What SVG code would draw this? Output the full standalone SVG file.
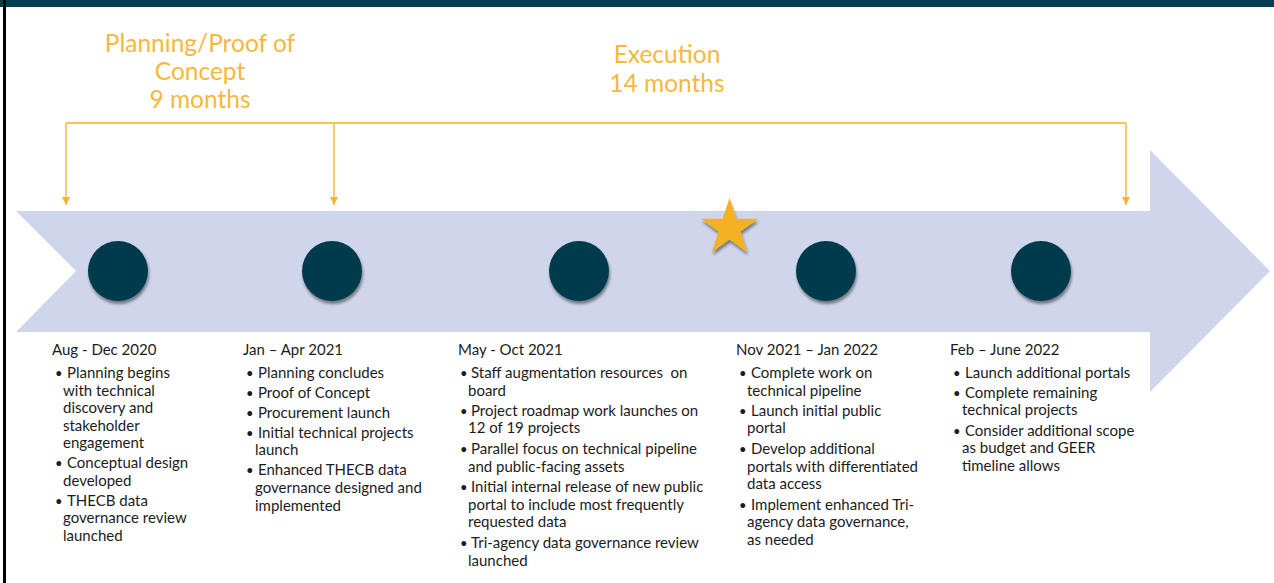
<svg xmlns="http://www.w3.org/2000/svg" width="1274" height="583" viewBox="0 0 1274 583">
  <style>
    .phase { font-family: Lato, "Open Sans", sans-serif; font-size: 24.5px; font-weight: 400; fill: #f6b83a; text-anchor: middle; }
    .body { font-family: Lato, "Liberation Sans", sans-serif; font-size: 15px; fill: #1c1c1c; white-space: pre; }
    .bul { font-family: Lato, "Liberation Sans", sans-serif; font-size: 13px; fill: #1c1c1c; }
    .dot { fill: #033b4e; filter: url(#shadow); }
    .conn { stroke: #f5b325; stroke-width: 1.3; fill: none; }
  </style>
  <defs>
    <filter id="shadow" x="-30%" y="-30%" width="160%" height="170%">
      <feGaussianBlur in="SourceAlpha" stdDeviation="1.6"/>
      <feOffset dx="1" dy="2.5" result="b"/>
      <feComponentTransfer><feFuncA type="linear" slope="0.45"/></feComponentTransfer>
      <feMerge><feMergeNode/><feMergeNode in="SourceGraphic"/></feMerge>
    </filter>
    <marker id="ah" markerUnits="userSpaceOnUse" markerWidth="9" markerHeight="9" refX="8" refY="4" orient="auto">
      <path d="M0,0 L8,4 L0,8 z" fill="#f5b325"/>
    </marker>
  </defs>

  <rect x="0" y="0" width="1274" height="583" fill="#ffffff"/>
  <rect x="0" y="0" width="1274" height="7" fill="#023d50"/>
  <rect x="3" y="0" width="3" height="583" fill="#000000"/>

  <g id="timeline-arrow">
    <polygon points="16,211 1150,211 1150,150 1270,271 1150,392 1150,332 16,332 76,271" fill="#cfd5ea"/>
  </g>

  <g id="connectors">
    <path class="conn" d="M66,123 H1126"/>
    <path class="conn" d="M66,123 V205" marker-end="url(#ah)"/>
    <path class="conn" d="M334,123 V205" marker-end="url(#ah)"/>
    <path class="conn" d="M1126,123 V205" marker-end="url(#ah)"/>
  </g>

  <g id="phase-planning">
    <text class="phase" x="200" y="52">Planning/Proof of</text>
    <text class="phase" x="200" y="80">Concept</text>
    <text class="phase" x="200" y="108">9 months</text>
  </g>
  <g id="phase-execution">
    <text class="phase" x="667" y="63">Execution</text>
    <text class="phase" x="667" y="92">14 months</text>
  </g>

  <g id="milestone-1"><circle class="dot" cx="118" cy="271" r="30"/></g>
  <g id="milestone-2"><circle class="dot" cx="332" cy="271" r="30"/></g>
  <g id="milestone-3"><circle class="dot" cx="579" cy="271" r="30"/></g>
  <g id="milestone-4"><circle class="dot" cx="826" cy="271" r="30"/></g>
  <g id="milestone-5"><circle class="dot" cx="1041" cy="271" r="30"/></g>

  <g id="star">
    <polygon points="729.5,198 736.26,218.7 758.03,218.73 740.44,231.55 747.13,252.27 729.5,239.5 711.87,252.27 718.56,231.55 700.97,218.73 722.74,218.7" fill="#f4b223" filter="url(#shadow)"/>
  </g>

  <g id="col-aug-dec-2020">
    <text class="body" x="52" y="355">Aug - Dec 2020</text>
    <text class="bul" x="55" y="378">•</text><text class="body" x="67" y="378">Planning begins</text>
    <text class="body" x="63" y="396">with technical</text>
    <text class="body" x="63" y="413">discovery and</text>
    <text class="body" x="63" y="431">stakeholder</text>
    <text class="body" x="63" y="448">engagement</text>
    <text class="bul" x="55" y="468">•</text><text class="body" x="67" y="468">Conceptual design</text>
    <text class="body" x="63" y="486">developed</text>
    <text class="bul" x="55" y="506">•</text><text class="body" x="67" y="506">THECB data</text>
    <text class="body" x="63" y="523">governance review</text>
    <text class="body" x="63" y="541">launched</text>
  </g>

  <g id="col-jan-apr-2021">
    <text class="body" x="243" y="355">Jan – Apr 2021</text>
    <text class="bul" x="246" y="378">•</text><text class="body" x="258" y="378">Planning concludes</text>
    <text class="bul" x="246" y="398">•</text><text class="body" x="258" y="398">Proof of Concept</text>
    <text class="bul" x="246" y="418">•</text><text class="body" x="258" y="418">Procurement launch</text>
    <text class="bul" x="246" y="438">•</text><text class="body" x="258" y="438">Initial technical projects</text>
    <text class="body" x="255" y="455">launch</text>
    <text class="bul" x="246" y="475">•</text><text class="body" x="258" y="475">Enhanced THECB data</text>
    <text class="body" x="255" y="493">governance designed and</text>
    <text class="body" x="255" y="511">implemented</text>
  </g>

  <g id="col-may-oct-2021">
    <text class="body" x="458" y="355">May - Oct 2021</text>
    <text class="bul" x="460" y="378">•</text><text class="body" x="471" y="378">Staff augmentation resources  on</text>
    <text class="body" x="468" y="396">board</text>
    <text class="bul" x="460" y="416">•</text><text class="body" x="471" y="416">Project roadmap work launches on</text>
    <text class="body" x="468" y="433">12 of 19 projects</text>
    <text class="bul" x="460" y="454">•</text><text class="body" x="471" y="454">Parallel focus on technical pipeline</text>
    <text class="body" x="468" y="472">and public-facing assets</text>
    <text class="bul" x="460" y="492">•</text><text class="body" x="471" y="492">Initial internal release of new public</text>
    <text class="body" x="468" y="510">portal to include most frequently</text>
    <text class="body" x="468" y="527">requested data</text>
    <text class="bul" x="460" y="548">•</text><text class="body" x="471" y="548">Tri-agency data governance review</text>
    <text class="body" x="468" y="566">launched</text>
  </g>

  <g id="col-nov-2021-jan-2022">
    <text class="body" x="736" y="355">Nov 2021 – Jan 2022</text>
    <text class="bul" x="739" y="378">•</text><text class="body" x="751" y="378">Complete work on</text>
    <text class="body" x="747" y="396">technical pipeline</text>
    <text class="bul" x="739" y="416">•</text><text class="body" x="751" y="416">Launch initial public</text>
    <text class="body" x="747" y="433">portal</text>
    <text class="bul" x="739" y="454">•</text><text class="body" x="751" y="454">Develop additional</text>
    <text class="body" x="747" y="472">portals with differentiated</text>
    <text class="body" x="747" y="489">data access</text>
    <text class="bul" x="739" y="510">•</text><text class="body" x="751" y="510">Implement enhanced Tri-</text>
    <text class="body" x="747" y="527">agency data governance,</text>
    <text class="body" x="747" y="545">as needed</text>
  </g>

  <g id="col-feb-june-2022">
    <text class="body" x="950" y="355">Feb – June 2022</text>
    <text class="bul" x="953" y="378">•</text><text class="body" x="965" y="378">Launch additional portals</text>
    <text class="bul" x="953" y="398">•</text><text class="body" x="965" y="398">Complete remaining</text>
    <text class="body" x="962" y="415">technical projects</text>
    <text class="bul" x="953" y="436">•</text><text class="body" x="965" y="436">Consider additional scope</text>
    <text class="body" x="962" y="453">as budget and GEER</text>
    <text class="body" x="962" y="471">timeline allows</text>
  </g>
</svg>
